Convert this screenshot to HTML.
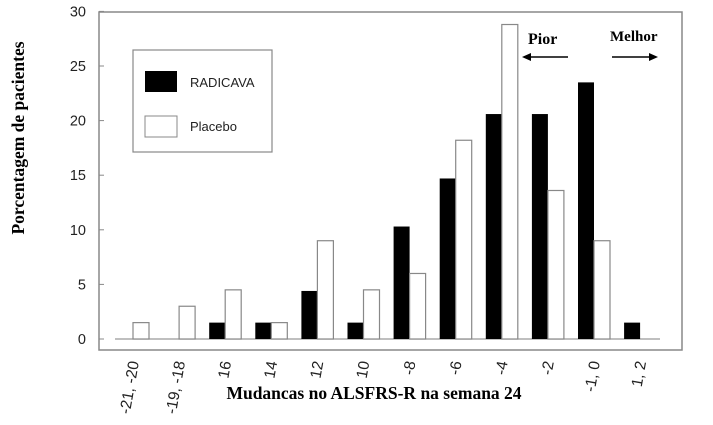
<!DOCTYPE html>
<html><head><meta charset="utf-8"><style>body{margin:0;background:#fff}svg{display:block}</style></head>
<body>
<svg id="chart" width="713" height="425" xmlns="http://www.w3.org/2000/svg">
<rect x="99" y="12" width="583" height="338" fill="none" stroke="#888" stroke-width="1.5"/>
<g id="bars"></g><g id="yaxis"></g><g id="xaxis"></g>
<g>
<rect x="133" y="50" width="139" height="102" fill="#fff" stroke="#888" stroke-width="1.2"/>
<rect x="145" y="71" width="32" height="21" fill="#000"/>
<text x="190" y="87" font-family="Liberation Sans, sans-serif" font-size="13" fill="#222">RADICAVA</text>
<rect x="145" y="116" width="32" height="21" fill="#fff" stroke="#888"/>
<text x="190" y="131" font-family="Liberation Sans, sans-serif" font-size="13" fill="#222">Placebo</text>
</g>
<text x="528" y="44" font-family="Liberation Serif, serif" font-weight="bold" font-size="16">Pior</text>
<g><line x1="524" y1="57" x2="568" y2="57" stroke="#000" stroke-width="1.5"/><path d="M522 57 L531 53 L531 61 Z"/></g>
<text x="610" y="41" font-family="Liberation Serif, serif" font-weight="bold" font-size="15">Melhor</text>
<g><line x1="612" y1="57" x2="654" y2="57" stroke="#000" stroke-width="1.5"/><path d="M658 57 L649 53 L649 61 Z"/></g>
<text x="374" y="399" text-anchor="middle" font-family="Liberation Serif, serif" font-weight="bold" font-size="17.5">Mudancas no ALSFRS-R na semana 24</text>
<text transform="translate(24,138) rotate(-90)" text-anchor="middle" font-family="Liberation Serif, serif" font-weight="bold" font-size="17.5">Porcentagem de pacientes</text>
</svg>
<script>
const categories=["-21, -20","-19, -18","16","14","12","10","-8","-6","-4","-2","-1, 0","1, 2"];
const radicava=[0,0,1.5,1.5,4.4,1.5,10.3,14.7,20.6,20.6,23.5,1.5];
const placebo=[1.5,3,4.5,1.5,9,4.5,6,18.2,28.8,13.6,9,0];
const yTicks=[0,5,10,15,20,25,30];
const NS="http://www.w3.org/2000/svg";
const y=v=>339-v*10.92;
const xc=i=>133+i*46.1;
const bw=16;
function mk(t,a,p){const e=document.createElementNS(NS,t);for(const k in a)e.setAttribute(k,a[k]);p.appendChild(e);return e;}
const bars=document.getElementById('bars');
mk('line',{x1:115,y1:339,x2:660,y2:339,stroke:'#999','stroke-width':1.2},bars);
categories.forEach((c,i)=>{
 if(radicava[i]>0){const r=mk('rect',{x:xc(i)-bw,y:y(radicava[i]),width:bw,height:339-y(radicava[i]),fill:'#000'},bars);
 
 }
 if(placebo[i]>0){const r=mk('rect',{x:xc(i),y:y(placebo[i]),width:bw,height:339-y(placebo[i]),fill:'#fff',stroke:'#888','stroke-width':1.2},bars);
 
 }
 const t=mk('text',{transform:`translate(${xc(i)+6},362) rotate(-80)`,'text-anchor':'end','font-family':'Liberation Sans, sans-serif','font-size':15.5,fill:'#222'},document.getElementById('xaxis'));
 t.textContent=c;
 
 
});
const ya=document.getElementById('yaxis');
yTicks.forEach(v=>{
 mk('line',{x1:99,y1:y(v),x2:104,y2:y(v),stroke:'#888'},ya);
 const t=mk('text',{x:86,y:y(v)+5,'text-anchor':'end','font-family':'Liberation Sans, sans-serif','font-size':14.5,fill:'#222'},ya);
 t.textContent=v;
 
 
});
</script>
</body></html>
